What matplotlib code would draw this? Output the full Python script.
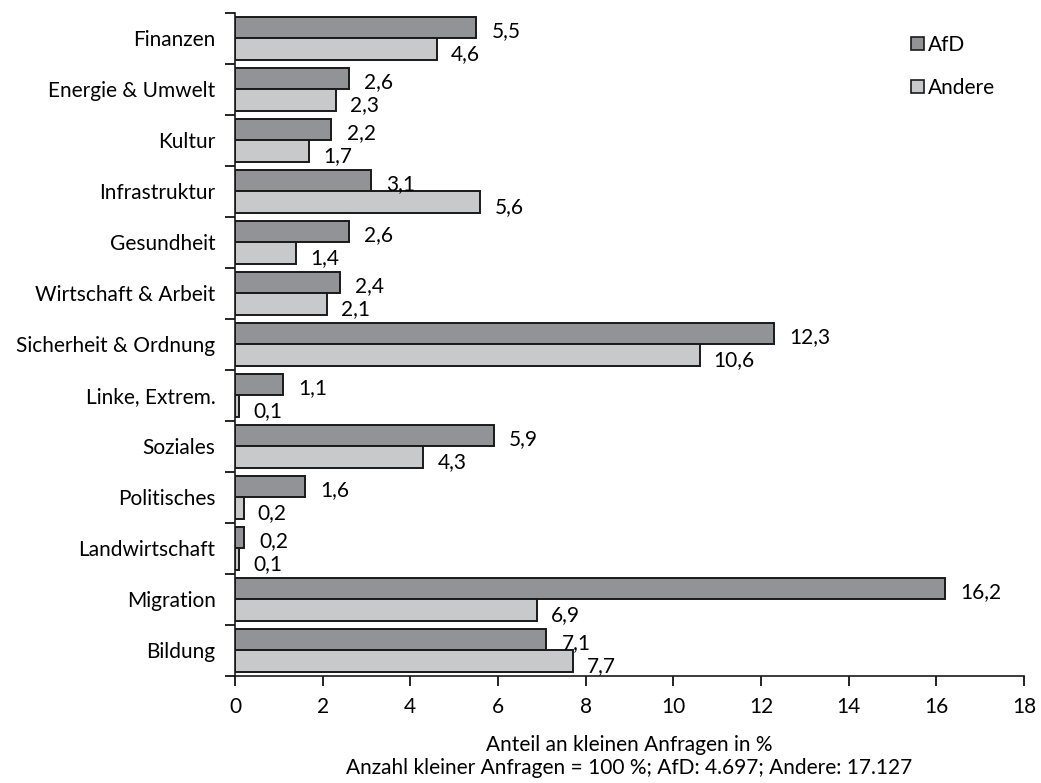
"""
Kleine Anfragen nach Themen: AfD vs. andere Fraktionen.
"""

import numpy as np
import matplotlib.pyplot as plt
from matplotlib.patches import Patch

# =====================================================
# DATA
# =====================================================

categories = [
    "Finanzen", "Energie & Umwelt", "Kultur", "Infrastruktur",
    "Gesundheit", "Wirtschaft & Arbeit", "Sicherheit & Ordnung",
    "Linke, Extrem.", "Soziales", "Politisches", "Landwirtschaft",
    "Migration", "Bildung",
]

afd = [5.5, 2.6, 2.2, 3.1, 2.6, 2.4, 12.3, 1.1, 5.9, 1.6, 0.2, 16.2, 7.1]

andere = [4.6, 2.3, 1.7, 5.6, 1.4, 2.1, 10.6, 0.1, 4.3, 0.2, 0.1, 6.9, 7.7]

x_ticks = list(range(0, 20, 2))

# =====================================================
# PLOT
# =====================================================

plt.rcParams["font.family"] = ["Lato", "DejaVu Sans"]
fs = 15

fig = plt.figure(figsize=(10.41, 7.83), dpi=100)
ax = fig.add_axes([0.2257, 0.1367, 0.7580, 0.8467])

n = len(categories)
y = np.arange(n)[::-1]
h = 0.43

col_afd = "#929396"
col_and = "#c8c9cb"

ax.barh(y + h / 2, afd, height=h, color=col_afd,
        edgecolor="#1a1a1a", linewidth=1.4)
ax.barh(y - h / 2, andere, height=h, color=col_and,
        edgecolor="#1a1a1a", linewidth=1.4)

for yi, a, b in zip(y, afd, andere):
    ax.annotate(f"{a:.1f}".replace(".", ","), (a, yi + h / 2),
                xytext=(11, -2.5), textcoords="offset points",
                va="center", ha="left", fontsize=fs)
    ax.annotate(f"{b:.1f}".replace(".", ","), (b, yi - h / 2),
                xytext=(10, -3), textcoords="offset points",
                va="center", ha="left", fontsize=fs)

ax.set_xlim(0, 18)
ax.set_ylim(-0.5, n - 0.5)

ax.set_xticks(x_ticks)
ax.set_xticklabels([str(t) for t in x_ticks], fontsize=fs)

# category labels centred, ticks at group boundaries
ax.set_yticks(y)
ax.set_yticklabels(categories, fontsize=fs)
ax.tick_params(axis="y", length=0, pad=14)
ax.set_yticks(np.arange(-0.5, n, 1.0), minor=True)
ax.tick_params(axis="y", which="minor", length=7, width=1.2,
               direction="out")
ax.tick_params(axis="x", length=7, width=1.2, direction="out", pad=8)

for side in ["top", "right"]:
    ax.spines[side].set_visible(False)
for side in ["left", "bottom"]:
    ax.spines[side].set_linewidth(1.2)
    ax.spines[side].set_color("#1a1a1a")

ax.set_xlabel(
    "Anteil an kleinen Anfragen in %\n"
    "Anzahl kleiner Anfragen = 100 %; AfD: 4.697; Andere: 17.127",
    fontsize=fs, labelpad=13, linespacing=1.2
)

handles = [
    Patch(facecolor=col_afd, edgecolor="#1a1a1a", linewidth=1.2),
    Patch(facecolor=col_and, edgecolor="#1a1a1a", linewidth=1.2),
]
ax.legend(handles, ["AfD", "Andere"], loc="upper left",
          bbox_to_anchor=(0.833, 0.995), frameon=False,
          handlelength=0.6, handleheight=0.6, handletextpad=0.2,
          labelspacing=1.1, fontsize=fs)

fig.savefig("out.png", dpi=100)
